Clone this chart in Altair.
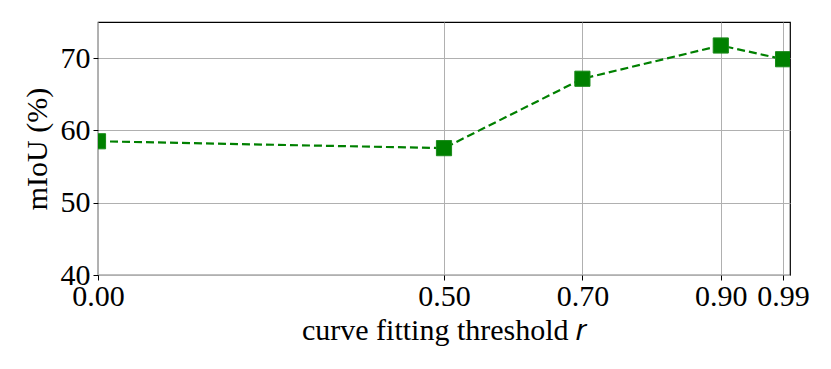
import altair as alt
import pandas as pd

thresholds = [0.0, 0.5, 0.7, 0.9, 0.99]
miou = [58.5, 57.55, 67.15, 71.75, 69.85]
x_ticks = [0.0, 0.5, 0.7, 0.9, 0.99]
y_ticks = [40, 50, 60, 70]

df = pd.DataFrame({"r": thresholds, "miou": miou})

FONT = "Liberation Serif"
GREEN = "#008000"

x_enc = alt.X(
    "r:Q",
    scale=alt.Scale(domain=[0, 1.0], nice=False, zero=False),
    axis=alt.Axis(
        values=x_ticks,
        format=".2f",
        title="curve fitting threshold 𝑟",
        labelFlush=False,
        labelPadding=1,
        titlePadding=4,
    ),
)
y_enc = alt.Y(
    "miou:Q",
    scale=alt.Scale(domain=[40, 75], nice=False, zero=False),
    axis=alt.Axis(
        values=y_ticks,
        title="mIoU (%)",
        labelPadding=3,
        titlePadding=8,
    ),
)

base = alt.Chart(df).encode(x=x_enc, y=y_enc)

line = base.mark_line(color=GREEN, strokeWidth=2.2, strokeDash=[8, 4])
points = base.mark_point(
    shape="square", filled=True, size=230, color=GREEN, opacity=1, clip=True,
    stroke="#1a8a1a", strokeWidth=1,
)

chart = (
    alt.layer(line, points)
    .properties(
        width=692,
        height=253,
        autosize=alt.AutoSizeParams(type="none"),
        padding={"left": 90, "top": 14, "right": 33, "bottom": 86},
    )
    .configure_view(stroke="black", strokeWidth=1.2)
    .configure_axis(
        labelFont=FONT,
        titleFont=FONT,
        labelFontSize=30,
        titleFontSize=30,
        titleFontWeight="normal",
        labelColor="black",
        titleColor="black",
        grid=True,
        gridColor="#b0b0b0",
        gridWidth=1,
        domain=False,
        tickColor="black",
        tickSize=5,
        tickWidth=1,
    )
)

chart.save("out.html", embed_options={"renderer": "svg", "actions": False})
